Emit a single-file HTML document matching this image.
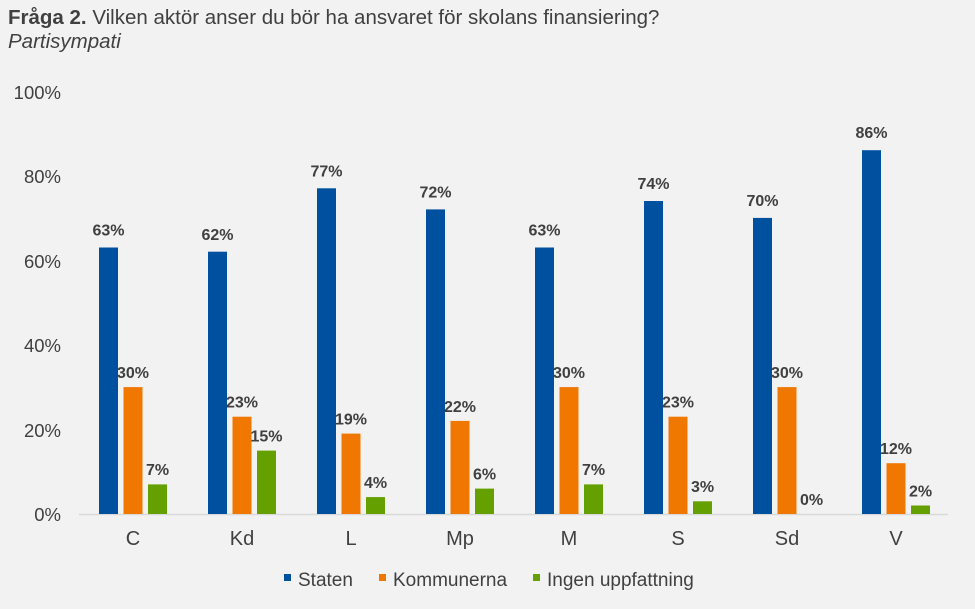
<!DOCTYPE html>
<html><head><meta charset="utf-8"><style>
html,body{margin:0;padding:0;background:#f2f2f2;}
svg{display:block;font-family:"Liberation Sans",Arial,sans-serif;}
</style></head><body>
<svg width="975" height="609" xmlns="http://www.w3.org/2000/svg">
<rect width="975" height="609" fill="#f2f2f2"/>
<text x="8" y="24" font-size="20.5" fill="#404040"><tspan font-weight="bold">Fråga 2.</tspan> Vilken aktör anser du bör ha ansvaret för skolans finansiering?</text>
<text x="8" y="48" font-size="20.5" fill="#404040" font-style="italic">Partisympati</text>
<g font-size="18.5" fill="#404040" text-anchor="end">
<text x="61" y="99">100%</text>
<text x="61" y="183">80%</text>
<text x="61" y="268">60%</text>
<text x="61" y="352">40%</text>
<text x="61" y="437">20%</text>
<text x="61" y="521">0%</text>
</g>
<line x1="79" y1="514.5" x2="948" y2="514.5" stroke="#d9d9d9" stroke-width="1.5"/>
<g>
<rect x="99" y="247.5" width="19" height="266.5" fill="#0050a0"/><rect x="123.5" y="387.1" width="19" height="126.9" fill="#f07800"/><rect x="148" y="484.4" width="19" height="29.6" fill="#64a000"/>
<rect x="208" y="251.7" width="19" height="262.3" fill="#0050a0"/><rect x="232.5" y="416.7" width="19" height="97.3" fill="#f07800"/><rect x="257" y="450.6" width="19" height="63.4" fill="#64a000"/>
<rect x="317" y="188.3" width="19" height="325.7" fill="#0050a0"/><rect x="341.5" y="433.6" width="19" height="80.4" fill="#f07800"/><rect x="366" y="497.1" width="19" height="16.9" fill="#64a000"/>
<rect x="426" y="209.4" width="19" height="304.6" fill="#0050a0"/><rect x="450.5" y="420.9" width="19" height="93.1" fill="#f07800"/><rect x="475" y="488.6" width="19" height="25.4" fill="#64a000"/>
<rect x="535" y="247.5" width="19" height="266.5" fill="#0050a0"/><rect x="559.5" y="387.1" width="19" height="126.9" fill="#f07800"/><rect x="584" y="484.4" width="19" height="29.6" fill="#64a000"/>
<rect x="644" y="201" width="19" height="313" fill="#0050a0"/><rect x="668.5" y="416.7" width="19" height="97.3" fill="#f07800"/><rect x="693" y="501.3" width="19" height="12.7" fill="#64a000"/>
<rect x="753" y="217.9" width="19" height="296.1" fill="#0050a0"/><rect x="777.5" y="387.1" width="19" height="126.9" fill="#f07800"/>
<rect x="862" y="150.2" width="19" height="363.8" fill="#0050a0"/><rect x="886.5" y="463.2" width="19" height="50.8" fill="#f07800"/><rect x="911" y="505.5" width="19" height="8.5" fill="#64a000"/>
</g>
<g font-size="16" font-weight="bold" fill="#404040" text-anchor="middle">
<text x="108.5" y="235.5">63%</text><text x="133" y="378">30%</text><text x="157.5" y="475">7%</text>
<text x="217.5" y="240">62%</text><text x="242" y="407.5">23%</text><text x="266.5" y="441.5">15%</text>
<text x="326.5" y="176.5">77%</text><text x="351" y="424.5">19%</text><text x="375.5" y="488">4%</text>
<text x="435.5" y="197.5">72%</text><text x="460" y="412">22%</text><text x="484.5" y="479.5">6%</text>
<text x="544.5" y="235.5">63%</text><text x="569" y="378">30%</text><text x="593.5" y="475">7%</text>
<text x="653.5" y="189">74%</text><text x="678" y="407.5">23%</text><text x="702.5" y="492">3%</text>
<text x="762.5" y="206">70%</text><text x="787" y="378">30%</text><text x="811.5" y="505">0%</text>
<text x="871.5" y="138">86%</text><text x="896" y="454">12%</text><text x="920.5" y="496.5">2%</text>
</g>
<g font-size="20" fill="#404040" text-anchor="middle">
<text x="133" y="545">C</text><text x="242" y="545">Kd</text><text x="351" y="545">L</text><text x="460" y="545">Mp</text><text x="569" y="545">M</text><text x="678" y="545">S</text><text x="787" y="545">Sd</text><text x="896" y="545">V</text>
</g>
<rect x="284" y="574" width="7" height="7" fill="#0050a0"/>
<text x="298" y="586" font-size="19" fill="#404040">Staten</text>
<rect x="379" y="574" width="7" height="7" fill="#f07800"/>
<text x="393" y="586" font-size="19" fill="#404040">Kommunerna</text>
<rect x="533" y="574" width="7" height="7" fill="#64a000"/>
<text x="547" y="586" font-size="19" fill="#404040">Ingen uppfattning</text>
</svg>
</body></html>
